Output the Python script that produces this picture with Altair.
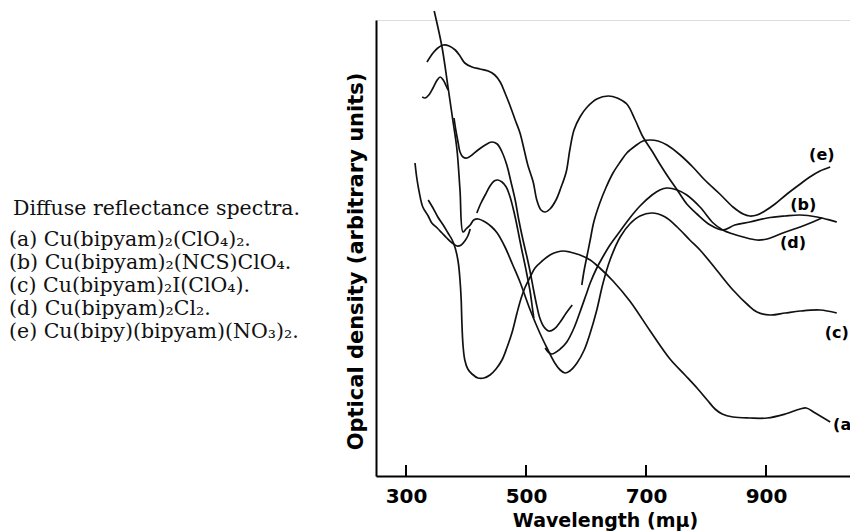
import altair as alt
import pandas as pd

# ---- tick values ----
tick_vals = [300, 500, 700, 900]

# ---- curve (a) ----
lam_a = [337, 345, 353, 362, 370, 377, 382, 387, 390, 392, 393, 395, 398, 403, 410, 420, 430, 440, 450, 460,
         468, 477, 485, 492, 498, 507, 515, 527, 540, 552, 562, 573, 590, 607, 623, 645, 673, 707, 740, 765,
         785, 802, 815, 827, 845, 873, 902, 932, 957, 967, 982, 1007]
od_a = [27.6, 26.8, 25.9, 25.1, 24.3, 23.6, 22.8, 21.4, 19.6, 17.6, 15.6, 13.1, 11.6, 10.7, 10.2, 9.8, 9.8, 10.1, 10.7, 11.6,
        12.8, 14.4, 16.3, 17.8, 18.8, 19.9, 20.8, 21.5, 22.1, 22.4, 22.5, 22.4, 22.1, 21.6, 20.8, 19.5, 17.5, 14.5, 11.7, 10.1,
        8.8, 7.6, 6.7, 6.2, 5.9, 5.8, 5.8, 6.2, 6.7, 6.8, 6.3, 5.4]

# ---- curve (b) ----
lam_b = [335, 345, 353, 362, 372, 382, 390, 398, 410, 423, 437, 448, 457, 465, 473, 482, 490, 497, 503, 512,
         518, 525, 532, 540, 550, 558, 567, 573, 580, 590, 602, 618, 637, 652, 668, 682, 695, 710, 723, 737,
         752, 768, 785, 807, 828, 848, 873, 902, 932, 957, 985, 1018]
od_b = [41.4, 42.3, 42.8, 43.1, 43.0, 42.6, 42.0, 41.3, 40.9, 40.7, 40.5, 40.1, 39.4, 38.3, 37.1, 35.6, 34.3, 32.6, 31.1, 29.4,
        27.6, 26.6, 26.4, 26.7, 27.6, 28.8, 30.4, 32.6, 34.6, 35.9, 36.9, 37.7, 38.0, 37.8, 37.2, 35.6, 33.9, 32.5, 31.2, 29.9,
        28.6, 27.2, 26.2, 25.1, 24.6, 25.1, 25.4, 25.8, 26.0, 26.1, 25.9, 25.4]

# ---- curve (c) ----
lam_c = [347, 360, 370, 378, 385, 390, 395, 400, 407, 413, 420, 432, 443, 452, 465, 478, 490, 507, 523, 535,
         548, 557, 565, 573, 585, 597, 607, 618, 628, 640, 657, 673, 690, 710, 732, 752, 773, 790, 815, 845,
         870, 885, 907, 932, 957, 990, 1018]
od_c = [46.5, 42.9, 38.9, 35.6, 32.6, 28.6, 24.4, 24.7, 25.1, 25.6, 25.7, 25.4, 24.9, 24.3, 22.9, 21.1, 19.4, 16.6, 14.3, 12.8,
        11.3, 10.6, 10.3, 10.5, 11.3, 12.6, 14.3, 16.6, 19.2, 21.6, 23.9, 25.2, 26.0, 26.3, 25.9, 24.9, 23.6, 22.6, 20.8, 18.6,
        17.1, 16.4, 16.1, 16.3, 16.5, 16.6, 16.3]

# ---- curve (d), three drawn pieces ----
lam_d1 = [327, 332, 338, 345, 352, 357, 362, 367, 370]
od_d1 = [37.9, 37.8, 38.1, 38.8, 39.6, 39.9, 39.6, 39.0, 38.6]
lam_d2 = [380, 383, 387, 390, 395, 402, 410, 420, 432, 443, 452, 460, 468, 475, 482, 488, 495, 502, 507, 512,
          517, 523, 530, 538, 547, 557, 567, 577]
od_d2 = [35.8, 34.6, 33.3, 32.4, 31.9, 31.8, 32.1, 32.6, 33.1, 33.4, 33.2, 32.4, 31.1, 29.4, 27.6, 25.6, 23.6, 21.8, 20.4, 18.8,
         17.3, 15.8, 14.9, 14.5, 14.7, 15.4, 16.3, 17.1]
lam_d3 = [532, 537, 543, 557, 568, 580, 590, 600, 607, 618, 628, 640, 657, 673, 690, 710, 723, 735, 752, 768,
          790, 812, 828, 845, 862, 885, 902, 928, 957, 978, 993]
od_d3 = [12.8, 12.4, 12.2, 12.7, 13.4, 14.8, 16.4, 18.1, 19.3, 20.8, 21.9, 23.1, 24.5, 25.8, 27.0, 28.1, 28.6, 28.8, 28.6, 28.1,
         26.9, 25.3, 24.6, 24.2, 23.9, 23.6, 23.7, 24.3, 24.9, 25.4, 25.8]

# ---- curve (e), three drawn pieces ----
lam_e1 = [315, 318, 322, 328, 337, 343, 352, 360, 368, 377, 385, 392, 398, 403, 407]
od_e1 = [31.3, 29.8, 28.4, 26.9, 26.0, 25.3, 24.8, 24.3, 23.8, 23.3, 23.0, 23.1, 23.5, 24.0, 24.7]
lam_e2 = [418, 425, 432, 440, 447, 453, 460, 467, 473, 478, 483, 488, 493, 498, 502, 507, 510, 513]
od_e2 = [26.3, 27.3, 28.1, 29.0, 29.5, 29.6, 29.4, 28.9, 28.0, 26.9, 25.6, 24.1, 22.6, 21.2, 20.0, 18.4, 17.1, 15.8]
lam_e3 = [593, 597, 602, 607, 613, 623, 633, 645, 657, 668, 682, 695, 707, 720, 735, 757, 778, 798, 823, 845,
          862, 873, 885, 898, 915, 935, 957, 973, 990, 1007]
od_e3 = [19.1, 20.6, 22.1, 23.6, 25.4, 27.3, 28.8, 30.3, 31.4, 32.3, 33.0, 33.5, 33.6, 33.5, 33.1, 32.1, 30.9, 29.6, 28.2, 26.9,
         26.2, 26.0, 26.1, 26.5, 27.2, 28.2, 29.2, 29.9, 30.5, 30.9]

# ---- curve labels ----
lab_txt = ["(a)", "(b)", "(c)", "(d)", "(e)"]
lab_lam = [1033, 962, 1018, 945, 993]
lab_od = [5.1, 27.1, 14.3, 23.3, 32.1]

# ---- caption ----
caption_title = "Diffuse reflectance spectra."
caption_lines = [
    "(a) Cu(bipyam)₂(ClO₄)₂.",
    "(b) Cu(bipyam)₂(NCS)ClO₄.",
    "(c) Cu(bipyam)₂I(ClO₄).",
    "(d) Cu(bipyam)₂Cl₂.",
    "(e) Cu(bipy)(bipyam)(NO₃)₂.",
]

pieces = [
    ("a", "a", lam_a, od_a), ("b", "b", lam_b, od_b), ("c", "c", lam_c, od_c),
    ("d", "d1", lam_d1, od_d1), ("d", "d2", lam_d2, od_d2), ("d", "d3", lam_d3, od_d3),
    ("e", "e1", lam_e1, od_e1), ("e", "e2", lam_e2, od_e2), ("e", "e3", lam_e3, od_e3),
]
rows = []
for curve, piece, lam, od in pieces:
    for i, (l, o) in enumerate(zip(lam, od)):
        rows.append({"curve": curve, "piece": piece, "i": i, "lam": l, "od": o})
df = pd.DataFrame(rows)

ticks_df = pd.DataFrame({"lam": tick_vals, "od": [0] * len(tick_vals), "od2": [1.1] * len(tick_vals)})
labels_df = pd.DataFrame({"lam": lab_lam, "od": lab_od, "txt": lab_txt})

xscale = alt.Scale(domain=[250, 1040], nice=False, zero=False)
yscale = alt.Scale(domain=[0, 45.6], nice=False, zero=False)

x_axis = alt.Axis(
    values=tick_vals, title="Wavelength (mμ)", ticks=False, grid=False,
    domainColor="black", domainWidth=2,
    labelFont="DejaVu Sans", labelFontSize=20, labelFontWeight="bold", labelColor="black",
    labelPadding=10, labelFlush=False,
    titleFont="DejaVu Sans", titleFontSize=19, titleFontWeight="bold", titleColor="black",
    titlePadding=5, titleX=229,
)
y_axis = alt.Axis(
    title="Optical density (arbitrary units)", ticks=False, labels=False, grid=False,
    domainColor="black", domainWidth=2,
    titleFont="DejaVu Sans", titleFontSize=21, titleFontWeight="bold", titleColor="black",
    titleAngle=270, titleX=-14, titleY=241, titleAlign="center", titleBaseline="alphabetic",
)

lines = alt.Chart(df).mark_line(color="#111", strokeWidth=1.7, interpolate="catmull-rom").encode(
    x=alt.X("lam:Q", scale=xscale, axis=x_axis),
    y=alt.Y("od:Q", scale=yscale, axis=y_axis),
    detail="piece:N",
    order=alt.Order("i:Q"),
)

ticks = alt.Chart(ticks_df).mark_rule(color="black", strokeWidth=2).encode(
    x=alt.X("lam:Q", scale=xscale),
    y=alt.Y("od:Q", scale=yscale),
    y2="od2:Q",
)

labels = alt.Chart(labels_df).mark_text(
    font="DejaVu Sans", fontSize=16, fontWeight="bold", color="black", align="center", baseline="middle"
).encode(
    x=alt.X("lam:Q", scale=xscale),
    y=alt.Y("od:Q", scale=yscale),
    text="txt:N",
)

cap_title = alt.Chart(pd.DataFrame({"k": [0]})).mark_text(
    font="DejaVu Serif", fontSize=20.5, color="#111", align="left", baseline="alphabetic"
).encode(x=alt.value(-363), y=alt.value(195), text=alt.value(caption_title))

cap_lines = alt.Chart(pd.DataFrame({"k": [0]})).mark_text(
    font="DejaVu Serif", fontSize=20.5, color="#111", align="left", baseline="alphabetic", lineHeight=23
).encode(x=alt.value(-367), y=alt.value(226), text=alt.value(caption_lines))

chart = alt.layer(lines, ticks, labels, cap_title, cap_lines).properties(
    width=474, height=456,
    autosize=alt.AutoSizeParams(type="none"),
    padding={"left": 368, "top": 12, "right": 0, "bottom": 56},
).configure_view(stroke=None).configure(background="white")

chart.save("out.html", embed_options={"renderer": "svg", "actions": False})
